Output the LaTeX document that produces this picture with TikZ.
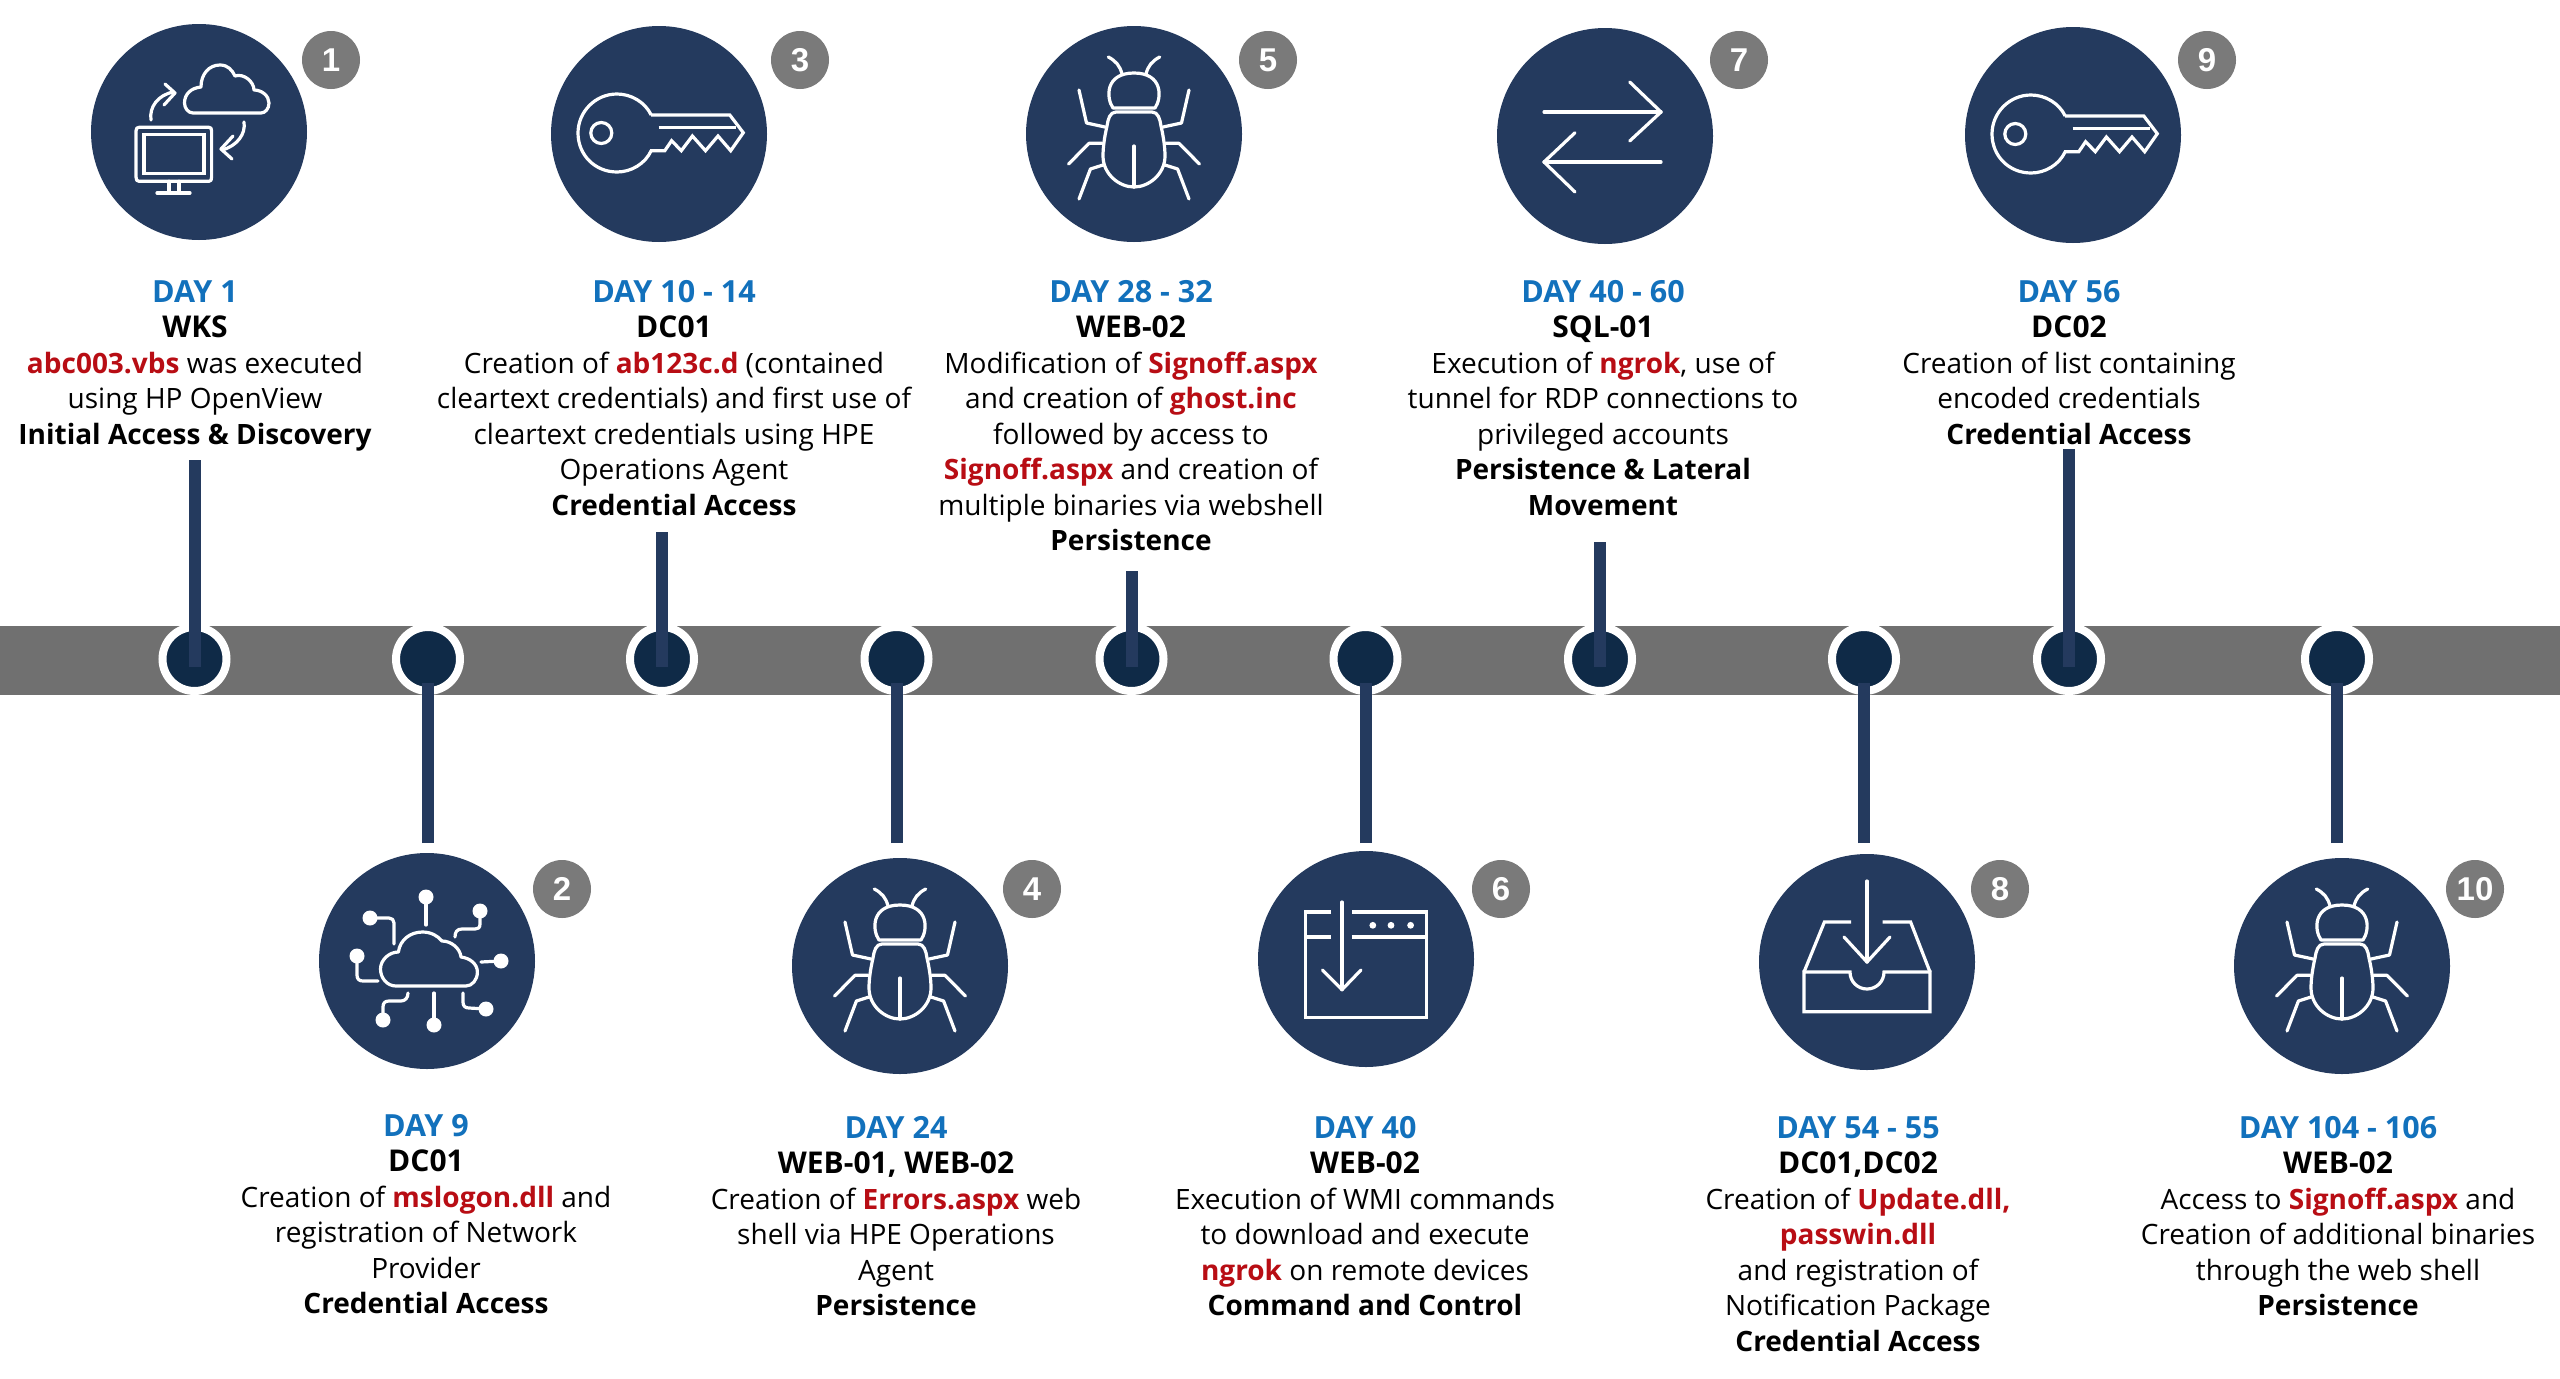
\documentclass[tikz,border=0pt]{standalone}
\usepackage{fontspec}
\setmainfont{Open Sans}
\newfontfamily\badgefont{Liberation Sans}
\definecolor{navy}{HTML}{243A5E}
\definecolor{dotnavy}{HTML}{0F2A47}
\definecolor{bandgray}{HTML}{707070}
\definecolor{badgegray}{HTML}{7A7A7A}
\definecolor{dayblue}{HTML}{1271BC}
\definecolor{keyred}{HTML}{B80D14}
\newcommand{\dayl}[1]{{\color{dayblue}\bfseries\fontsize{30.5}{35.5}\selectfont #1}}
\newcommand{\hostl}[1]{{\bfseries\fontsize{30}{35.5}\selectfont #1}}
\newcommand{\hl}[1]{{\color{keyred}\bfseries #1}}
\newcommand{\bb}[1]{{\bfseries #1}}
\tikzset{
  iconcircle/.style={circle,fill=navy,minimum size=216pt,inner sep=0pt},
  badge/.style={circle,fill=badgegray,minimum size=58pt,inner sep=0pt,text=white,font=\badgefont\bfseries\fontsize{33}{33}\selectfont},
  tdot/.style={circle,fill=dotnavy,draw=white,line width=8pt,minimum size=64pt,inner sep=0pt},
  stem/.style={navy,line width=12pt},
  caption/.style={anchor=north,inner sep=0pt,align=center,text=black,font=\fontsize{28}{35.5}\selectfont},
  ic/.style={white,line width=3.2pt,line cap=round,line join=round},
  icm/.style={white,line width=3.2pt,line join=miter}
}
\newcommand{\keyicon}[2]{\begin{scope}[shift={(#1,#2)}]
 \draw[icm] (-7.8,-19) -- (70.8,-19) -- (84.3,-1.3) -- (71.7,16.7) -- (59,2) -- (46.5,16.7) -- (33.4,2) -- (22.3,16.7) -- (12.6,6.7) -- (5.8,16.7) -- (-7.8,16.7)
   .. controls (-14,30) and (-28,38) .. (-42,38) .. controls (-64,38) and (-81,21) .. (-81,-1) .. controls (-81,-22) and (-64,-40) .. (-42,-40) .. controls (-28,-40) and (-14,-32) .. (-7.8,-19);
 \draw[icm] (-0.5,-6.7) -- (77,-6.7);
 \draw[icm] (-57.7,-1) circle (10.5);
\end{scope}}
\newcommand{\bugicon}[2]{\begin{scope}[shift={(#1,#2)}]
 \draw[ic] (-21,-26) .. controls (-28,-36) and (-29,-61) .. (0,-61) .. controls (29,-61) and (28,-36) .. (21,-26) -- cycle;
 \draw[ic] (-18,-22) .. controls (-24,-22) and (-26,-15) .. (-27,-8) .. controls (-30,5) and (-31,15) .. (-31,22) .. controls (-31,40) and (-15,53) .. (0,53)
   .. controls (15,53) and (31,40) .. (31,22) .. controls (31,15) and (30,5) .. (27,-8) .. controls (26,-15) and (24,-22) .. (18,-22) -- cycle;
 \draw[ic] (0,12) -- (0,53);
 \foreach \s in {-1,1}{
  \draw[ic] (\s*12,-60) .. controls (\s*14,-68) and (\s*18,-73) .. (\s*25.7,-77);
  \draw[ic] (\s*55,-44) -- (\s*47.5,-11) -- (\s*29,-7);
  \draw[ic] (\s*65.4,30) -- (\s*45,9.3) -- (\s*32,9.3);
  \draw[ic] (\s*55,65) -- (\s*43.6,35) -- (\s*31,31);
 }
\end{scope}}
\newcommand{\swapicon}[2]{\begin{scope}[shift={(#1,#2)}]
 \draw[ic] (-61,-24) -- (56,-24);
 \draw[ic] (24.7,-54) -- (56,-24) -- (24.7,5);
 \draw[ic] (56,26) -- (-61,26);
 \draw[ic] (-30,-3.3) -- (-61,26) -- (-30,56);
\end{scope}}
\newcommand{\moncloud}[2]{\begin{scope}[shift={(#1,#2)}]
 \draw[ic] (-63,-1) .. controls (-63,-3.5) and (-62,-4.7) .. (-60,-4.7) -- (10,-4.7) .. controls (12,-4.7) and (12.6,-3.5) .. (12.6,-1) -- (12.6,45) .. controls (12.6,48) and (12,49.3) .. (10,49.3) -- (-60,49.3) .. controls (-62,49.3) and (-63,48) .. (-63,45) -- cycle;
 \draw[icm] (-55,2.7) rectangle (5,41.7);
 \draw[ic] (-30,49.3) -- (-30,61); \draw[ic] (-20,49.3) -- (-20,61);
 \draw[ic] (-42,61) -- (-9,61);
 \draw[ic] (-6,-19) .. controls (-11,-19) and (-14.5,-24) .. (-14.5,-29) .. controls (-14.5,-38) and (-8,-44) .. (2,-45) .. controls (2,-58) and (10,-67) .. (21,-67) .. controls (29,-67) and (33,-62) .. (36,-56) .. controls (45,-59) and (55,-50) .. (55,-42) .. controls (63,-42) and (70,-36) .. (70,-29) .. controls (70,-23) and (66,-19) .. (62,-19) -- cycle;
 \draw[ic] (-48,-12) .. controls (-50,-25) and (-41,-37) .. (-25.7,-40);
 \draw[ic] (-34,-48) -- (-24,-39) -- (-35,-27);
 \draw[ic] (45,-10) .. controls (47,2) and (38,14) .. (23,18);
 \draw[ic] (34,4) -- (22,17) -- (33,27);
\end{scope}}
\newcommand{\netcloud}[2]{\begin{scope}[shift={(#1,#2)}]
 \draw[ic] (-31,25) .. controls (-40,25) and (-46.5,17) .. (-46.5,8) .. controls (-46.5,-1) and (-38,-9) .. (-28.6,-9) .. controls (-27,-21) and (-17,-29) .. (-4.4,-29) .. controls (4,-29) and (11,-25) .. (15,-20) .. controls (24,-20) and (33,-13) .. (34,-4) .. controls (43,-3) and (50.4,3) .. (50.4,11) .. controls (50.4,19) and (45,25) .. (39,25) -- cycle;
 \fill[white] (-1,-64) circle (7.5) (53,-50) circle (7.5) (-57,-43) circle (7.5) (-70,-5) circle (7.5) (74,0) circle (7.5) (59,48) circle (7.5) (7,64) circle (7.5) (-44,59) circle (7.5);
 \draw[ic] (-1,-64) -- (-1,-36);
 \draw[ic] (53,-50) -- (53,-37) .. controls (53,-33) and (51,-32) .. (48,-32) -- (35,-32) .. controls (30,-32) and (28,-29) .. (28,-24);
 \draw[ic] (-57,-43) -- (-38,-43) .. controls (-35,-43) and (-33,-41) .. (-33,-38) -- (-33,-17);
 \draw[ic] (-70,-5) -- (-70,14) .. controls (-70,18) and (-68,20) .. (-64,20) -- (-49,20);
 \draw[ic] (54,1) -- (74,0);
 \draw[ic] (36,32) -- (36,41) .. controls (36,45) and (38,47) .. (42,47) -- (59,48);
 \draw[ic] (7,32) -- (7,64);
 \draw[ic] (-44,59) -- (-44,46) .. controls (-44,42) and (-42,40) .. (-38,40) -- (-26,40) .. controls (-22,40) and (-19,37) .. (-19,32);
\end{scope}}
\newcommand{\windowicon}[2]{\begin{scope}[shift={(#1,#2)}]
 \draw[icm] (-35,-47) -- (-60.6,-47) -- (-60.6,58.7) -- (60.6,58.7) -- (60.6,-47) -- (-14.5,-47);
 \draw[icm] (-60.6,-22) -- (-35,-22);
 \draw[icm] (-14.5,-22) -- (60.6,-22);
 \draw[ic] (-24,-57) -- (-24,30.7);
 \draw[ic] (-43.6,11) -- (-24,30.7) -- (-5,11);
 \fill[white] (6.8,-33.7) circle (3.4) (25,-33.7) circle (3.4) (44.6,-33.7) circle (3.4);
\end{scope}}
\newcommand{\trayicon}[2]{\begin{scope}[shift={(#1,#2)}]
 \draw[ic] (0,-81) -- (0,0);
 \draw[ic] (-23,-25) -- (0,0) -- (23,-25);
 \draw[icm] (-16,-40) -- (-42.6,-40) -- (-63,10);
 \draw[icm] (15.5,-40) -- (43.6,-40) -- (63,10);
 \draw[icm] (-63,10) -- (-17,10) .. controls (-17,20) and (-9,27) .. (0,27) .. controls (9,27) and (17,20) .. (17,10) -- (63,10) -- (63,49.7) -- (-63,49.7) -- cycle;
\end{scope}}
\begin{document}
\begin{tikzpicture}[x=1pt,y=-1pt]
\useasboundingbox (0,0) rectangle (2560,1379);
\fill[white] (0,0) rectangle (2560,1379);
\fill[bandgray] (0,626) rectangle (2560,695);
% timeline dots
\node[tdot] (d1) at (194.5,659) {};
\node[tdot] (d2) at (428,659) {};
\node[tdot] (d3) at (662,659) {};
\node[tdot] (d4) at (896.5,659) {};
\node[tdot] (d5) at (1131.5,659) {};
\node[tdot] (d6) at (1365.5,659) {};
\node[tdot] (d7) at (1600,659) {};
\node[tdot] (d8) at (1864,659) {};
\node[tdot] (d9) at (2069,659) {};
\node[tdot] (d10) at (2337,659) {};
% free ends of the stems
\coordinate (s1) at (194.5,460);
\coordinate (s2) at (428,843);
\coordinate (s3) at (662,532);
\coordinate (s4) at (896.5,843);
\coordinate (s5) at (1131.5,571);
\coordinate (s6) at (1365.5,843);
\coordinate (s7) at (1600,542);
\coordinate (s8) at (1864,843);
\coordinate (s9) at (2069,449);
\coordinate (s10) at (2337,843);
\draw[stem] (s1) -- ([yshift=-8pt]d1.center);
\draw[stem] (s3) -- ([yshift=-8pt]d3.center);
\draw[stem] (s5) -- ([yshift=-8pt]d5.center);
\draw[stem] (s7) -- ([yshift=-8pt]d7.center);
\draw[stem] (s9) -- ([yshift=-8pt]d9.center);
\draw[stem] (s2) -- ([yshift=-24pt]d2.center);
\draw[stem] (s4) -- ([yshift=-24pt]d4.center);
\draw[stem] (s6) -- ([yshift=-24pt]d6.center);
\draw[stem] (s8) -- ([yshift=-24pt]d8.center);
\draw[stem] (s10) -- ([yshift=-24pt]d10.center);
% icon circles
\node[iconcircle] (c1) at (199,132) {};
\node[iconcircle] (c2) at (427,961) {};
\node[iconcircle] (c3) at (659,134) {};
\node[iconcircle] (c4) at (900,966) {};
\node[iconcircle] (c5) at (1134,134) {};
\node[iconcircle] (c6) at (1366,959) {};
\node[iconcircle] (c7) at (1605,136) {};
\node[iconcircle] (c8) at (1867,962) {};
\node[iconcircle] (c9) at (2073,135) {};
\node[iconcircle] (c10) at (2342,966) {};
\moncloud{199}{132}
\netcloud{427}{961}
\keyicon{659}{134}
\bugicon{900}{966}
\bugicon{1134}{134}
\windowicon{1366}{959}
\swapicon{1605}{136}
\trayicon{1867}{962}
\keyicon{2073}{135}
\bugicon{2342}{966}
% badges
\node[badge] (b1) at (331,60) {1};
\node[badge] (b2) at (562,889) {2};
\node[badge] (b3) at (800,60) {3};
\node[badge] (b4) at (1032,889) {4};
\node[badge] (b5) at (1268,60) {5};
\node[badge] (b6) at (1501,889) {6};
\node[badge] (b7) at (1739,60) {7};
\node[badge] (b8) at (2000,889) {8};
\node[badge] (b9) at (2207,60) {9};
\node[badge] (b10) at (2475,889) {10};
% captions
\node[caption] (t1) at (195,280) {\dayl{DAY 1}\\\hostl{WKS}\\\hl{abc003.vbs} was executed\\using HP OpenView\\\bb{Initial Access \& Discovery}};
\node[caption] (t3) at (674,280) {\dayl{DAY 10 - 14}\\\hostl{DC01}\\Creation of \hl{ab123c.d} (contained\\cleartext credentials) and first use of\\cleartext credentials using HPE\\Operations Agent\\\bb{Credential Access}};
\node[caption] (t5) at (1131,280) {\dayl{DAY 28 - 32}\\\hostl{WEB-02}\\Modification of \hl{Signoff.aspx}\\and creation of \hl{ghost.inc}\\followed by access to\\\hl{Signoff.aspx} and creation of\\multiple binaries via webshell\\\bb{Persistence}};
\node[caption] (t7) at (1603,280) {\dayl{DAY 40 - 60}\\\hostl{SQL-01}\\Execution of \hl{ngrok}, use of\\tunnel for RDP connections to\\privileged accounts\\\bb{Persistence \& Lateral}\\\bb{Movement}};
\node[caption] (t9) at (2069,280) {\dayl{DAY 56}\\\hostl{DC02}\\Creation of list containing\\encoded credentials\\\bb{Credential Access}};
\node[caption] (t2) at (426,1114) {\dayl{DAY 9}\\\hostl{DC01}\\Creation of \hl{mslogon.dll} and\\registration of Network\\Provider\\\bb{Credential Access}};
\node[caption] (t4) at (896,1116) {\dayl{DAY 24}\\\hostl{WEB-01, WEB-02}\\Creation of \hl{Errors.aspx} web\\shell via HPE Operations\\Agent\\\bb{Persistence}};
\node[caption] (t6) at (1365,1116) {\dayl{DAY 40}\\\hostl{WEB-02}\\Execution of WMI commands\\to download and execute\\\hl{ngrok} on remote devices\\\bb{Command and Control}};
\node[caption] (t8) at (1858,1116) {\dayl{DAY 54 - 55}\\\hostl{DC01,DC02}\\Creation of \hl{Update.dll,}\\\hl{passwin.dll}\\and registration of\\Notification Package\\\bb{Credential Access}};
\node[caption] (t10) at (2338,1116) {\dayl{DAY 104 - 106}\\\hostl{WEB-02}\\Access to \hl{Signoff.aspx} and\\Creation of additional binaries\\through the web shell\\\bb{Persistence}};
\end{tikzpicture}
\end{document}
